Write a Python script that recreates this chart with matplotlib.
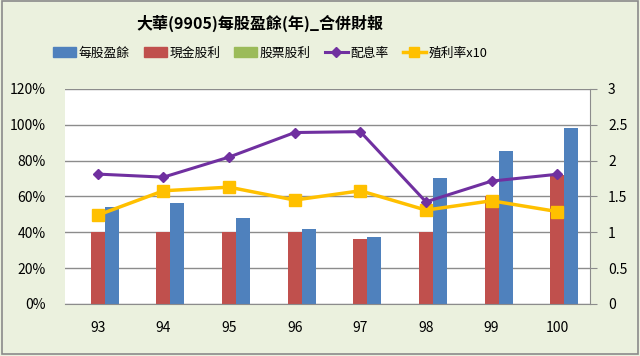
import matplotlib
matplotlib.use("Agg")
import matplotlib.pyplot as plt
from matplotlib.patches import Patch, Rectangle
from matplotlib.lines import Line2D
from matplotlib.ticker import FuncFormatter
import numpy as np

plt.rcParams['font.family'] = ['Noto Sans CJK TC', 'DejaVu Sans']

years = ["93", "94", "95", "96", "97", "98", "99", "100"]
eps = [1.36, 1.41, 1.20, 1.04, 0.93, 1.76, 2.14, 2.46]
cash_div = [1.0, 1.0, 1.0, 1.0, 0.90, 1.0, 1.5, 1.8]
stock_div = [0, 0, 0, 0, 0, 0, 0, 0]
payout = [72.5, 70.8, 82.0, 95.7, 96.2, 57.0, 68.6, 72.4]
yield_x10 = [1.24, 1.58, 1.63, 1.45, 1.58, 1.31, 1.44, 1.29]

C_BLUE = "#4F81BD"
C_RED = "#C0504D"
C_GREEN = "#9BBB59"
C_PURPLE = "#7030A0"
C_YELLOW = "#FFC000"
BG = "#EBF1DE"

fig = plt.figure(figsize=(6.4, 3.56), dpi=100, facecolor=BG)
fig.patches.append(Rectangle((0.003, 0.006), 0.994, 0.99, transform=fig.transFigure,
                             fill=False, edgecolor="#8a8a8a", linewidth=1.2))

ax2 = fig.add_axes([0.1016, 0.1461, 0.8203, 0.6039])
ax = ax2.twinx()
ax.yaxis.tick_left()
ax2.yaxis.tick_right()
ax.set_zorder(ax2.get_zorder() + 1)
ax.patch.set_visible(False)
ax2.set_facecolor("white")

x = np.arange(len(years))
w = 0.213
ax2.bar(x, cash_div, w, color=C_RED, zorder=2)
ax2.bar(x + w, eps, w, color=C_BLUE, zorder=2)
ax2.bar(x + w, stock_div, w, color=C_GREEN, zorder=2)
ax2.plot(x, yield_x10, color=C_YELLOW, lw=2.5, marker="s", ms=8, zorder=3)
ax.plot(x, payout, color=C_PURPLE, lw=2.2, marker="D", ms=5)

ax2.set_xlim(-0.5, len(years) - 0.5)
ax2.set_ylim(0, 3)
ax2.set_yticks(np.arange(0, 3.01, 0.5))
ax2.yaxis.set_major_formatter(FuncFormatter(lambda v, p: f"{v:g}"))
ax.set_ylim(0, 120)
ax.set_yticks(range(0, 121, 20))
ax.yaxis.set_major_formatter(FuncFormatter(lambda v, p: f"{int(v)}%"))
ax2.set_xticks(x)
ax2.set_xticklabels(years)

ax2.grid(axis="y", color="#8c8c8c", lw=1)
ax2.set_axisbelow(True)

for a in (ax, ax2):
    for s in ("top", "left"):
        a.spines[s].set_visible(False)
    a.spines["bottom"].set_visible(a is ax2)
ax2.spines["right"].set_color("#8c8c8c")
ax2.spines["bottom"].set_color("#8c8c8c")
ax.spines["right"].set_visible(False)

ax.tick_params(axis="y", length=0, labelsize=10, pad=14)
ax2.tick_params(axis="y", length=5, color="#8c8c8c", labelsize=10, pad=8)
ax2.tick_params(axis="x", length=0, labelsize=10, pad=12)

fig.text(0.406, 0.935, "大華(9905)每股盈餘(年)_合併財報", ha="center", va="center",
         fontsize=11.5, fontweight="bold")

handles = [Patch(color=C_BLUE), Patch(color=C_RED), Patch(color=C_GREEN),
           Line2D([], [], color=C_PURPLE, lw=2.2, marker="D", ms=5),
           Line2D([], [], color=C_YELLOW, lw=2.5, marker="s", ms=7)]
labels = ["每股盈餘", "現金股利", "股票股利", "配息率", "殖利率x10"]
fig.legend(handles, labels, loc="center", bbox_to_anchor=(0.422, 0.851), ncol=5,
           frameon=False, fontsize=9.2, handlelength=1.8, handletextpad=0.2,
           columnspacing=1.1, handleheight=0.9)

fig.savefig("out.png", dpi=100, facecolor=BG)
